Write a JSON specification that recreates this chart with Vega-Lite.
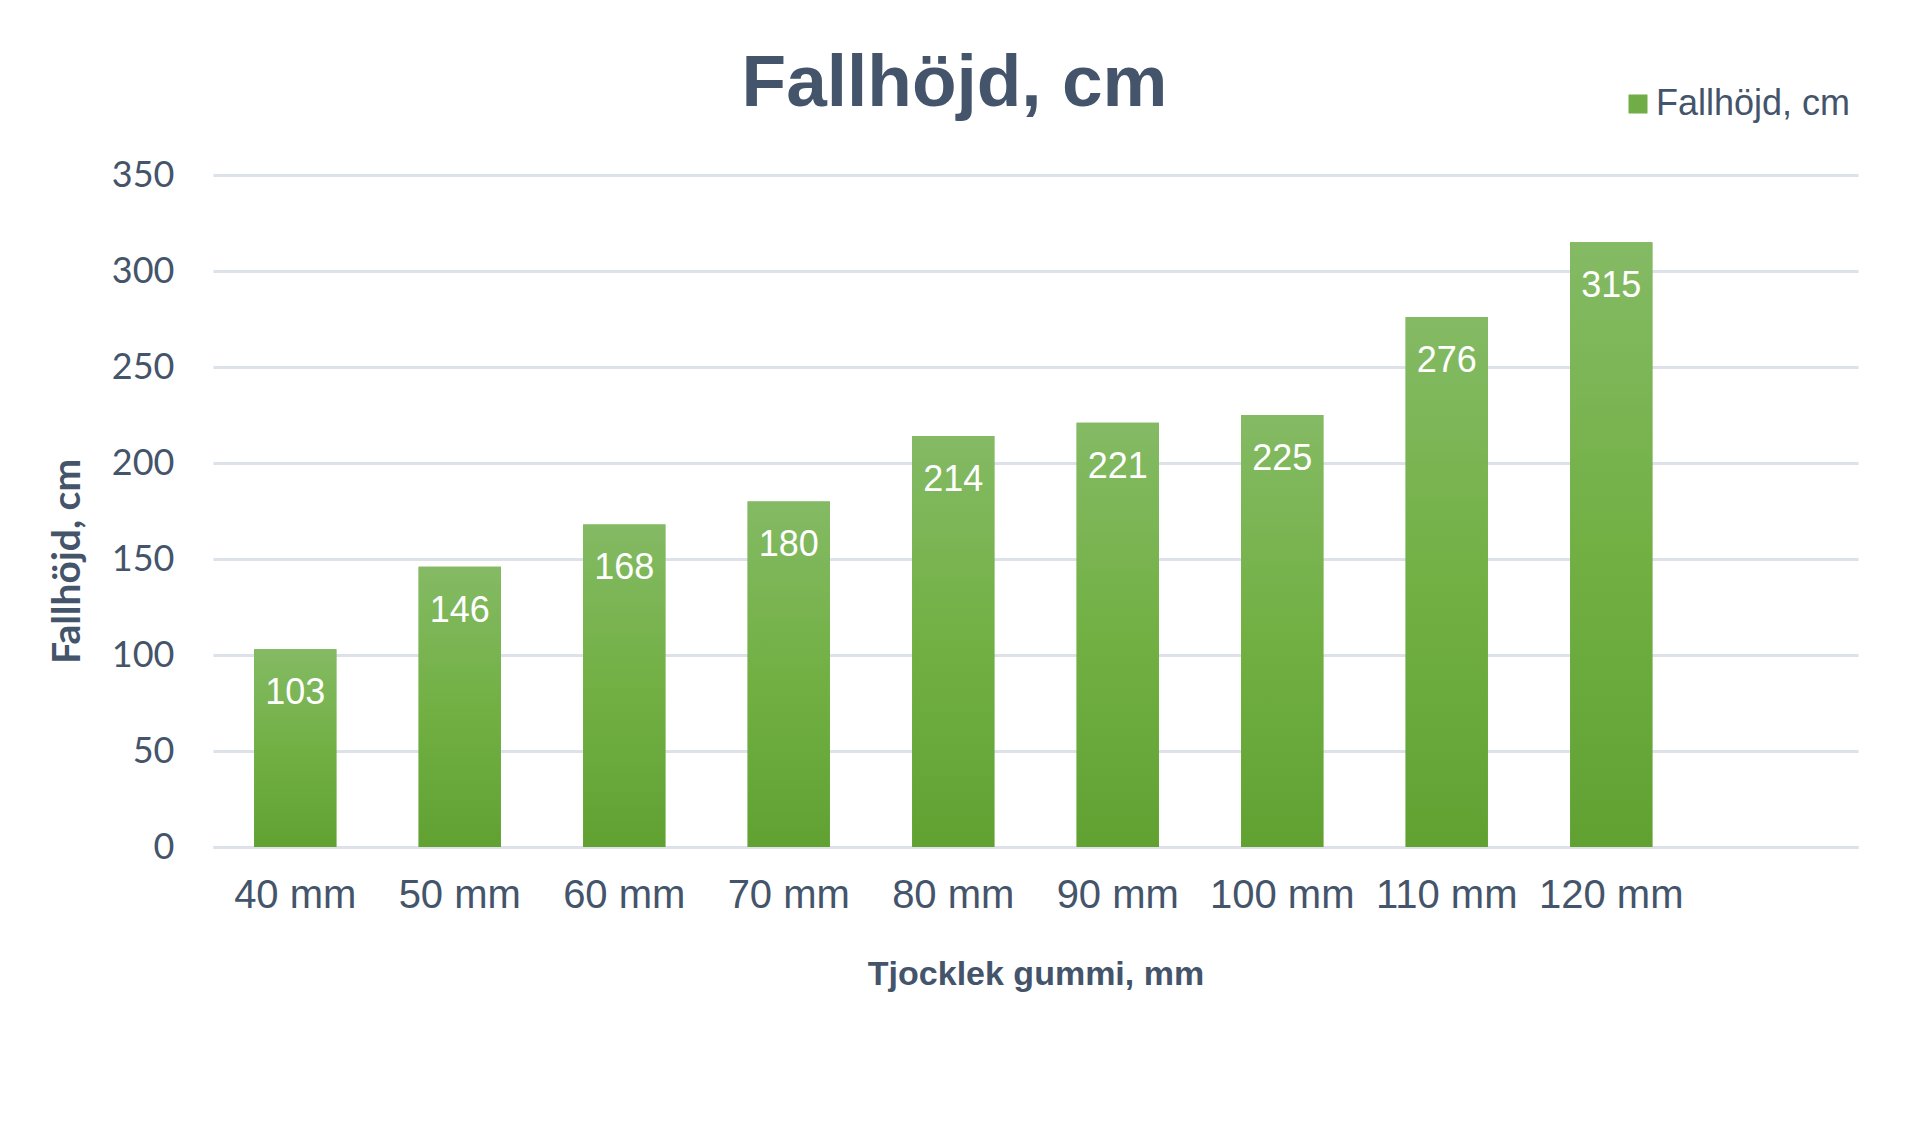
{
  "$schema": "https://vega.github.io/schema/vega-lite/v6.json",
  "autosize": {"type": "none"},
  "width": 1645,
  "height": 672,
  "padding": {"left": 213, "top": 175, "right": 53, "bottom": 280},
  "background": "white",
  "view": {"stroke": null},
  "title": {
    "text": "Fallhöjd, cm",
    "font": "Liberation Sans",
    "fontSize": 73,
    "fontWeight": "bold",
    "color": "#44546a",
    "anchor": "middle",
    "frame": "group",
    "baseline": "alphabetic",
    "dx": -81,
    "offset": -93
  },
  "data": {
    "values": [
      {"tjocklek": "40 mm", "fallhojd": 103},
      {"tjocklek": "50 mm", "fallhojd": 146},
      {"tjocklek": "60 mm", "fallhojd": 168},
      {"tjocklek": "70 mm", "fallhojd": 180},
      {"tjocklek": "80 mm", "fallhojd": 214},
      {"tjocklek": "90 mm", "fallhojd": 221},
      {"tjocklek": "100 mm", "fallhojd": 225},
      {"tjocklek": "110 mm", "fallhojd": 276},
      {"tjocklek": "120 mm", "fallhojd": 315}
    ]
  },
  "encoding": {
    "x": {
      "field": "tjocklek",
      "type": "nominal",
      "sort": null,
      "scale": {
        "domain": ["40 mm", "50 mm", "60 mm", "70 mm", "80 mm", "90 mm", "100 mm", "110 mm", "120 mm", " "],
        "paddingInner": 0.5,
        "paddingOuter": 0.25
      },
      "axis": {
        "title": "Tjocklek gummi, mm",
        "titleFont": "Liberation Sans",
        "titleFontSize": 34,
        "titleFontWeight": "bold",
        "titleColor": "#44546a",
        "titleBaseline": "alphabetic",
        "titleY": 137,
        "labelFont": "Liberation Sans",
        "labelFontSize": 40,
        "labelColor": "#44546a",
        "labelAngle": 0,
        "labelPadding": 28,
        "ticks": false,
        "tickSize": 0,
        "domain": true,
        "domainColor": "#dde2ea",
        "domainWidth": 3
      }
    },
    "y": {
      "field": "fallhojd",
      "type": "quantitative",
      "scale": {"domain": [0, 350], "nice": false},
      "axis": {
        "title": "Fallhöjd, cm",
        "titleFont": "Lato",
        "titleFontSize": 39,
        "titleFontWeight": "bold",
        "titleColor": "#44546a",
        "titleAngle": -90,
        "titleAlign": "center",
        "titleBaseline": "middle",
        "titleX": -146,
        "titleY": 386,
        "values": [0, 50, 100, 150, 200, 250, 300, 350],
        "labelFont": "Lato",
        "labelFontSize": 36,
        "labelColor": "#44546a",
        "labelPadding": 39,
        "ticks": false,
        "tickSize": 0,
        "domain": false,
        "grid": true,
        "gridColor": "#dde2ea",
        "gridWidth": 3
      }
    }
  },
  "layer": [
    {
      "mark": {"type": "bar"},
      "encoding": {
        "color": {
          "datum": "Fallhöjd, cm",
          "type": "nominal",
          "scale": {"range": ["#70ad47"]},
          "legend": {
            "title": null,
            "orient": "none",
            "legendX": 1407,
            "legendY": -89,
            "padding": 0,
            "symbolType": "square",
            "symbolSize": 361,
            "symbolStrokeWidth": 0,
            "labelFont": "Liberation Sans",
            "labelFontSize": 36,
            "labelColor": "#44546a",
            "labelOffset": 0,
            "labelLimit": 0
          }
        }
      }
    },
    {
      "mark": {
        "type": "bar",
        "color": {
          "gradient": "linear",
          "x1": 0, "y1": 0, "x2": 0, "y2": 1,
          "stops": [
            {"offset": 0, "color": "#84ba64"},
            {"offset": 0.5, "color": "#72b044"},
            {"offset": 1, "color": "#61a132"}
          ]
        }
      }
    },
    {
      "mark": {
        "type": "text",
        "baseline": "alphabetic",
        "dy": 55,
        "font": "Liberation Sans",
        "fontSize": 36,
        "color": "white"
      },
      "encoding": {
        "text": {"field": "fallhojd", "type": "quantitative"}
      }
    }
  ]
}
